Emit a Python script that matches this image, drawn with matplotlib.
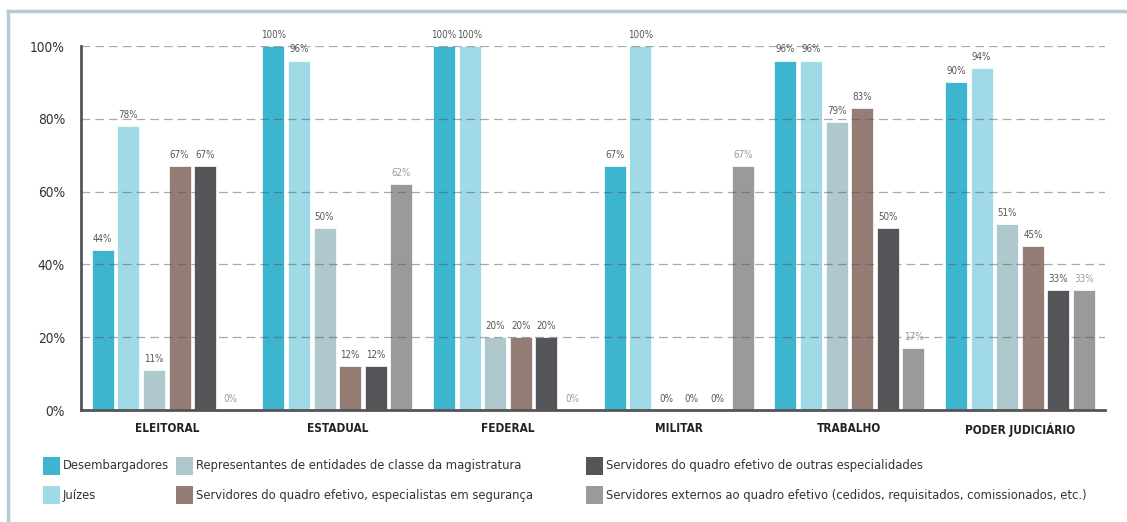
import matplotlib
matplotlib.use('Agg')
import matplotlib.pyplot as plt
import numpy as np
from matplotlib.patches import Rectangle
from matplotlib.lines import Line2D

plt.rcParams['font.family'] = ['DejaVu Sans']
plt.rcParams['font.stretch'] = 'condensed'

# dados
categorias = ['ELEITORAL', 'ESTADUAL', 'FEDERAL', 'MILITAR', 'TRABALHO', 'PODER JUDICIÁRIO']
series = ['Desembargadores',
          'Juízes',
          'Representantes de entidades de classe da magistratura',
          'Servidores do quadro efetivo, especialistas em segurança',
          'Servidores do quadro efetivo de outras especialidades',
          'Servidores externos ao quadro efetivo (cedidos, requisitados, comissionados, etc.)']
desembargadores = [44, 100, 100, 67, 96, 90]
juizes = [78, 96, 100, 100, 96, 94]
representantes = [11, 50, 20, 0, 79, 51]
seguranca = [67, 12, 20, 0, 83, 45]
outras = [67, 12, 20, 0, 50, 33]
externos = [0, 62, 0, 67, 17, 33]
valores = [desembargadores, juizes, representantes, seguranca, outras, externos]
cores = ['#3db5cf', '#a0dae7', '#aec8cd', '#937d75', '#545558', '#9a9a9c']
yticks = [0, 20, 40, 60, 80, 100]

fig = plt.figure(figsize=(11.27, 5.22), dpi=100)
W, H = 1127, 522
ax = fig.add_axes([81 / W, 1 - 410 / H, (1105 - 81) / W, (410 - 46) / H])

x = np.arange(len(categorias))
passo = 0.150
for i, (nome, vals, cor) in enumerate(zip(series, valores, cores)):
    pos = x + (i - 2.5) * passo
    ax.bar(pos, vals, width=0.129, color=cor, edgecolor='white', linewidth=0.5, zorder=2)
    cor_txt = '#9a9a9a' if i == 5 else '#555555'
    for px, v in zip(pos, vals):
        ax.text(px, v + 1.7, '%d%%' % v, ha='center', va='bottom', fontsize=7,
                color=cor_txt, clip_on=False)

ax.set_xlim(-0.5025, 5.498)
ax.set_ylim(0, 100)
ax.set_yticks(yticks)
ax.set_yticklabels(['%d%%' % t for t in yticks], fontsize=9.8, color='#333333')
ax.set_xticks(x)
ax.set_xticklabels(categorias, fontsize=8.5, fontweight='bold', color='#222222')
ax.tick_params(axis='both', length=0)
ax.tick_params(axis='y', pad=11.5)
ax.tick_params(axis='x', pad=9)
ax.grid(axis='y', color='#555555', alpha=0.5, linestyle=(0, (7, 4)), linewidth=0.9, zorder=3)
ax.set_axisbelow(False)
for s in ['top', 'right']:
    ax.spines[s].set_visible(False)
for s in ['left', 'bottom']:
    ax.spines[s].set_color('#555555')
    ax.spines[s].set_linewidth(2)
    ax.spines[s].set_zorder(4)

# moldura
fig.add_artist(Line2D([8 / W, 1], [1 - 11 / H, 1 - 11 / H], color='#b5ccd2', linewidth=2.5))
fig.add_artist(Line2D([8 / W, 8 / W], [0, 1 - 11 / H], color='#b5ccd2', linewidth=2.5))

# legenda
col_x = [43, 176, 586]
row_y = [466, 495]
for i, (nome, cor) in enumerate(zip(series, cores)):
    cx = col_x[i // 2]
    cy = row_y[i % 2]
    fig.add_artist(Rectangle((cx / W, 1 - (cy + 9) / H), 17 / W, 18 / H,
                             facecolor=cor, edgecolor='none', transform=fig.transFigure))
    fig.text((cx + 20) / W, 1 - cy / H, nome, fontsize=9.3, color='#333333', va='center', ha='left')

fig.savefig('out.png', dpi=100)
